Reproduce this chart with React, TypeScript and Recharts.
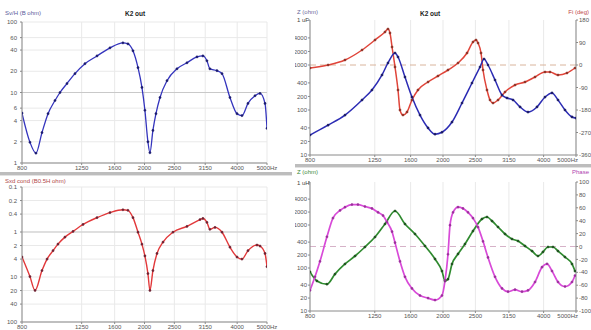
import React from 'react';
import { LineChart, Line, XAxis, YAxis, CartesianGrid, ReferenceLine } from 'recharts';

// Shared frequency axis (Hz, log scale, 1/3-octave ticks)
const freqTicks = [800, 1250, 1600, 2000, 2500, 3150, 4000, 5000];
const fmtFreq = (f: number) => (f === 5000 ? '5000Hz' : String(f));

// Sv/H transfer (top left)
const svhFreq = [800, 849, 888, 929, 972, 1024, 1063, 1120, 1189, 1281, 1402, 1545, 1702, 1767, 1835, 1905, 1962, 2006, 2052, 2083, 2130, 2179, 2246, 2367, 2550, 2748, 2962, 3096, 3190, 3262, 3439, 3571, 3790, 3996, 4146, 4337, 4571, 4746, 4926, 5000];
const svhVal = [5.1, 1.97, 1.38, 2.7, 5.0, 7.7, 10, 13.4, 18.5, 25.6, 33, 43, 50.6, 49, 39, 22.5, 11.8, 5.6, 2.0, 1.4, 2.9, 5.0, 8.5, 14.7, 21.7, 26.4, 32, 33, 28.2, 21.7, 20.4, 18.5, 8.5, 5.0, 4.7, 7.0, 9.0, 9.7, 7.0, 3.1];
const svhTicks = [1, 2, 4, 6, 10, 20, 40, 60, 100];

// Cond. response (bottom left, reversed log axis)
const condFreq = [800, 849, 882, 929, 965, 1009, 1047, 1103, 1172, 1263, 1402, 1545, 1702, 1767, 1835, 1905, 1962, 2006, 2052, 2083, 2130, 2196, 2297, 2475, 2748, 3029, 3096, 3190, 3262, 3389, 3571, 3790, 3996, 4146, 4337, 4640, 4746, 4926, 5000];
const condVal = [3.6, 9.8, 19.9, 7.2, 4.0, 2.6, 1.86, 1.3, 0.97, 0.68, 0.48, 0.37, 0.32, 0.33, 0.48, 1.01, 1.86, 3.4, 8.4, 19.9, 7.2, 3.0, 1.68, 1.01, 0.75, 0.53, 0.5, 0.61, 0.87, 0.79, 1.01, 2.17, 3.6, 4.0, 2.6, 1.95, 2.05, 3.0, 5.9];
const condTicks = [0.1, 0.2, 0.4, 1, 2, 4, 10, 20, 40, 100];

// Impedance magnitude and phase, K2 out (top right)
const zOutFreq = [800, 906, 1018, 1145, 1226, 1314, 1369, 1437, 1467, 1539, 1615, 1707, 1804, 1893, 1986, 2128, 2280, 2442, 2581, 2653, 2727, 2862, 3003, 3108, 3240, 3400, 3592, 3822, 4039, 4238, 4417, 4635, 4864, 5000];
const zOutVal = [27.8, 46, 77, 167, 278, 600, 1108, 1848, 1506, 541, 194, 77, 40, 29, 32, 54, 143, 398, 903, 1360, 1000, 464, 215, 185, 167, 117, 90, 117, 194, 239, 167, 100, 70, 66];
const phOutFreq = [800, 906, 1018, 1145, 1252, 1341, 1369, 1388, 1408, 1437, 1467, 1487, 1518, 1561, 1615, 1683, 1804, 1932, 2070, 2218, 2360, 2459, 2511, 2546, 2599, 2635, 2708, 2765, 2823, 2922, 3066, 3285, 3519, 3770, 4039, 4180, 4417, 4699, 4966];
const phOutVal = [-12, 0, 20, 60, 100, 132, 144, 128, 72, -8, -100, -180, -200, -188, -140, -100, -68, -44, -20, 8, 48, 92, 100, 88, 48, -20, -100, -140, -152, -140, -108, -80, -68, -48, -28, -28, -40, -32, -12];
const zTicks = [10, 20, 40, 100, 200, 400, 1000, 2000, 4000, 10000];
const phOutTicks = [-360, -270, -180, -90, 0, 90, 180];

// Impedance magnitude and phase (bottom right)
const zInFreq = [800, 839, 899, 950, 1018, 1091, 1168, 1252, 1341, 1437, 1539, 1649, 1767, 1893, 1986, 2028, 2070, 2128, 2218, 2327, 2459, 2616, 2708, 2803, 2922, 3066, 3217, 3354, 3519, 3693, 3848, 3983, 4123, 4267, 4417, 4635, 4864, 4966];
const zInVal = [81, 50, 42, 72, 124, 190, 308, 526, 1055, 2118, 1055, 618, 325, 162, 85, 50, 55, 124, 212, 361, 724, 1380, 1535, 1239, 898, 618, 472, 425, 325, 248, 190, 236, 308, 308, 248, 180, 124, 85];
const phInFreq = [800, 828, 857, 899, 937, 984, 1018, 1068, 1113, 1168, 1226, 1278, 1323, 1360, 1408, 1437, 1487, 1539, 1615, 1707, 1804, 1893, 1986, 2028, 2070, 2099, 2143, 2218, 2295, 2376, 2459, 2546, 2635, 2727, 2862, 3003, 3130, 3285, 3447, 3592, 3770, 3956, 4095, 4238, 4417, 4635, 4864, 4966];
const phInVal = [-68, -47, -23, 15, 44, 56, 61, 65, 65, 62, 59, 53, 48, 38, 23, 6, -23, -47, -65, -76, -80, -83, -76, -53, -12, 33, 53, 61, 59, 53, 44, 30, 8, -17, -47, -65, -70, -67, -70, -68, -55, -32, -27, -38, -55, -62, -55, -45];
const phInTicks = [-100, -80, -60, -40, -20, 0, 20, 40, 60, 80, 100];

const toPoints = (fs: number[], vs: number[]) => fs.map((f, i) => ({ f, v: vs[i] }));

const FONT = '"Liberation Sans", Arial, sans-serif';
const tickStyle = { fontSize: 6, fill: '#555', fontFamily: FONT };
const axisStroke = '#8a8a8a';
const gridStroke = '#e9e9e9';

const fmtNum = (v: number) => String(v);
const hideTop = (v: number) => (v === 10000 ? '' : String(v));

// Frequency tick label; on the right-hand panels the last label is pulled inside the plot edge
function makeFreqTick(endLast: boolean) {
  return (props: any) => {
    const { x, y, payload } = props;
    const last = payload.value === 5000;
    const anchor = last && endLast ? 'end' : 'middle';
    const dx = last && endLast ? 2 : 0;
    return (
      <text x={x + dx} y={y + 5} textAnchor={anchor} fontSize={6} fill="#555" fontFamily={FONT}>
        {fmtFreq(payload.value)}
      </text>
    );
  };
}

function FreqAxis({ height, endLast }: { height: number; endLast: boolean }) {
  return (
    <XAxis
      dataKey="f"
      type="number"
      scale="log"
      domain={[800, 5000]}
      ticks={freqTicks}
      allowDataOverflow
      interval={0}
      height={height}
      tick={makeFreqTick(endLast)}
      tickSize={2}
      tickMargin={0}
      stroke={axisStroke}
    />
  );
}

export default function App() {
  return (
    <div style={{ position: 'fixed', left: 0, top: 0, width: 591, height: 330, background: '#fff', overflow: 'hidden' }}>
      {/* top left */}
      <div style={{ position: 'absolute', left: 0, top: 0 }}>
        <LineChart width={292} height={172} margin={{ top: 22, right: 25, bottom: 0, left: 0 }}>
          <CartesianGrid stroke={gridStroke} />
          {FreqAxis({ height: 9, endLast: false })}
          <YAxis type="number" scale="log" domain={[1, 100]} ticks={svhTicks} tickFormatter={fmtNum} allowDataOverflow interval={0}
            width={22} tick={tickStyle} tickSize={2} tickMargin={3} stroke={axisStroke} />
          <ReferenceLine y={10} stroke="#c9c9c9" />
          <Line type="monotone" data={toPoints(svhFreq, svhVal)} dataKey="v" stroke="#3434bd" strokeWidth={1.3} isAnimationActive={false}
            dot={{ r: 1.1, fill: '#1c1c6e', stroke: '#1c1c6e', strokeWidth: 0.5 }} />
        </LineChart>
      </div>
      {/* bottom left */}
      <div style={{ position: 'absolute', left: 0, top: 176 }}>
        <LineChart width={292} height={154} margin={{ top: 11, right: 25, bottom: 0, left: 0 }}>
          <CartesianGrid stroke={gridStroke} />
          {FreqAxis({ height: 8, endLast: false })}
          <YAxis type="number" scale="log" domain={[0.1, 100]} reversed ticks={condTicks} tickFormatter={fmtNum} allowDataOverflow interval={0}
            width={22} tick={tickStyle} tickSize={2} tickMargin={3} stroke={axisStroke} />
          <ReferenceLine y={1} stroke="#c9c9c9" />
          <Line type="monotone" data={toPoints(condFreq, condVal)} dataKey="v" stroke="#e2383a" strokeWidth={1.4} isAnimationActive={false}
            dot={{ r: 1.1, fill: '#6e2232', stroke: '#6e2232', strokeWidth: 0.5 }} />
        </LineChart>
      </div>
      {/* top right */}
      <div style={{ position: 'absolute', left: 295, top: 0 }}>
        <LineChart width={296} height={164} margin={{ top: 20, right: 0, bottom: 0, left: 0 }}>
          <CartesianGrid stroke={gridStroke} yAxisId="z" horizontal={false} />
          {FreqAxis({ height: 9, endLast: true })}
          <YAxis yAxisId="z" orientation="left" type="number" scale="log" domain={[10, 10000]} ticks={zTicks} tickFormatter={hideTop} allowDataOverflow interval={0}
            width={15} tick={tickStyle} tickSize={2} tickMargin={1} stroke={axisStroke} />
          <YAxis yAxisId="ph" orientation="right" type="number" domain={[-360, 180]} ticks={phOutTicks} tickFormatter={fmtNum} allowDataOverflow interval={0}
            width={15} tick={tickStyle} tickSize={2} tickMargin={1} stroke={axisStroke} />
          <ReferenceLine yAxisId="ph" y={0} stroke="#d9b49c" strokeDasharray="6 4" />
          <Line type="monotone" yAxisId="ph" data={toPoints(phOutFreq, phOutVal)} dataKey="v" stroke="#e0453a" strokeWidth={1.5} isAnimationActive={false}
            dot={{ r: 1.1, fill: '#8a3024', stroke: '#8a3024', strokeWidth: 0.5 }} />
          <Line type="monotone" yAxisId="z" data={toPoints(zOutFreq, zOutVal)} dataKey="v" stroke="#2c2cb4" strokeWidth={1.5} isAnimationActive={false}
            dot={{ r: 1.1, fill: '#1a1a62', stroke: '#1a1a62', strokeWidth: 0.5 }} />
        </LineChart>
      </div>
      {/* bottom right */}
      <div style={{ position: 'absolute', left: 295, top: 168 }}>
        <LineChart width={296} height={162} margin={{ top: 14, right: 0, bottom: 0, left: 0 }}>
          <CartesianGrid stroke={gridStroke} yAxisId="z" horizontal={false} />
          {FreqAxis({ height: 19, endLast: true })}
          <YAxis yAxisId="z" orientation="left" type="number" scale="log" domain={[10, 10000]} ticks={zTicks} tickFormatter={hideTop} allowDataOverflow interval={0}
            width={15} tick={tickStyle} tickSize={2} tickMargin={1} stroke={axisStroke} />
          <YAxis yAxisId="ph" orientation="right" type="number" domain={[-100, 100]} ticks={phInTicks} tickFormatter={fmtNum} allowDataOverflow interval={0}
            width={15} tick={tickStyle} tickSize={2} tickMargin={1} stroke={axisStroke} />
          <ReferenceLine yAxisId="ph" y={0} stroke="#d6b2c8" strokeDasharray="6 4" />
          <Line type="monotone" yAxisId="z" data={toPoints(zInFreq, zInVal)} dataKey="v" stroke="#2f8a2f" strokeWidth={1.7} isAnimationActive={false}
            dot={{ r: 1.1, fill: '#1f4f1f', stroke: '#1f4f1f', strokeWidth: 0.5 }} />
          <Line type="monotone" yAxisId="ph" data={toPoints(phInFreq, phInVal)} dataKey="v" stroke="#d84ad8" strokeWidth={1.7} isAnimationActive={false}
            dot={{ r: 1.1, fill: '#9a309a', stroke: '#9a309a', strokeWidth: 0.5 }} />
        </LineChart>
      </div>
      {/* panel frames and headers */}
      <svg width={591} height={330} style={{ position: 'absolute', left: 0, top: 0, pointerEvents: 'none' }} fontFamily={FONT}>
        <rect x={0} y={172} width={292} height={3} fill="#bdbdbd" />
        <rect x={0} y={175} width={292} height={1} fill="#e2e2e2" />
        <rect x={295} y={164} width={296} height={3} fill="#bdbdbd" />
        <rect x={295} y={167} width={296} height={1} fill="#e2e2e2" />
        <text x={5} y={15} fontSize={6} fill="#5a5a9a">Sv/H (B ohm)</text>
        <text x={125} y={16} fontSize={6.5} fontWeight="bold" fill="#222">K2 out</text>
        <text x={5} y={183} fontSize={6} fill="#b04848">Sxd cond (B0.5H ohm)</text>
        <text x={297} y={14} fontSize={6} fill="#6a6a9a">Z (ohm)</text>
        <text x={297} y={22} fontSize={6} fill="#444">1 uF</text>
        <text x={420} y={16} fontSize={6.5} fontWeight="bold" fill="#222">K2 out</text>
        <text x={589} y={14} fontSize={6} fill="#c04848" textAnchor="end">Fi (deg)</text>
        <text x={297} y={174} fontSize={6} fill="#3a8a3a">Z (ohm)</text>
        <text x={297} y={185} fontSize={6} fill="#444">1 uH</text>
        <text x={589} y={174} fontSize={6} fill="#b040b0" textAnchor="end">Phase</text>
      </svg>
    </div>
  );
}
